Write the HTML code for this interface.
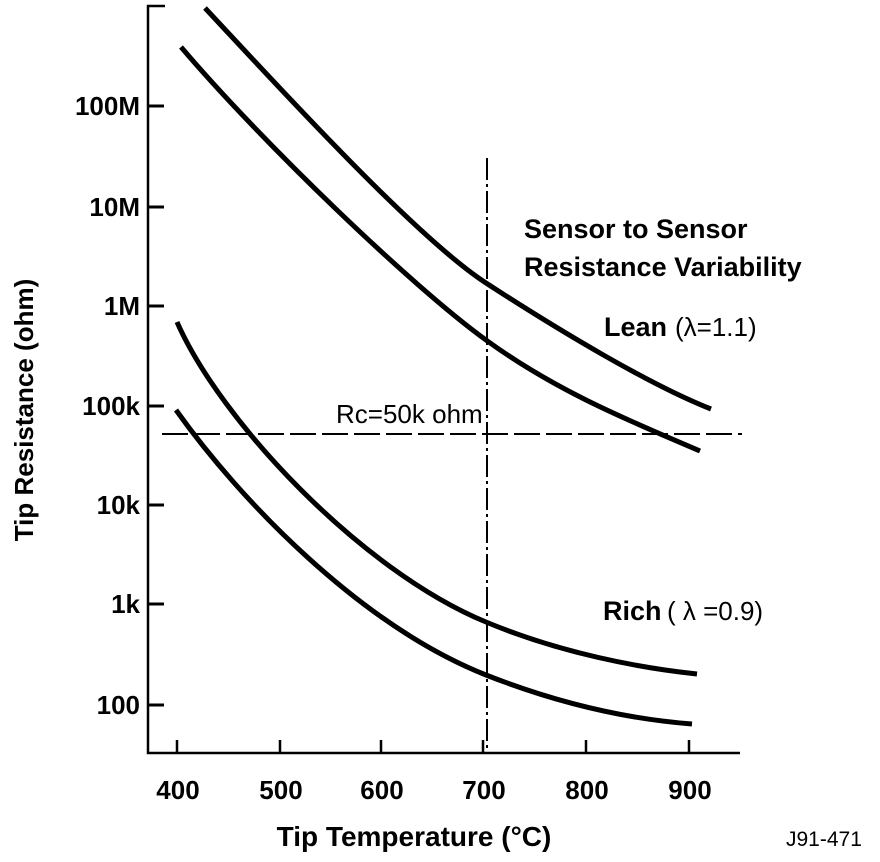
<!DOCTYPE html>
<html><head><style>body{margin:0;background:#fff}svg{display:block}</style></head><body>
<svg width="880" height="862" xmlns="http://www.w3.org/2000/svg" font-family="Liberation Sans, sans-serif">
<g stroke="#000" fill="none">
<path d="M165,6 L148,6 L148,753 L740,753" stroke-width="2.5"/>
<g stroke-width="3">
<path d="M148,106 H164 M148,207 H164 M148,306 H164 M148,406 H164 M148,505 H164 M148,604 H164 M148,705 H164"/>
</g>
<g stroke-width="2.5">
<path d="M177,740 V753 M280,740 V753 M381,740 V753 M483,740 V753 M586,740 V753 M689,740 V753"/>
</g>
<path d="M487,158 V753" stroke-width="2" stroke-dasharray="22,4,3,4"/>
<path d="M162,434 H742" stroke-width="2" stroke-dasharray="26,6"/>
<g stroke-width="5" stroke-linecap="butt">
<path d="M205,8 C300,110 420,240 486,283 C560,331 650,385 711,409"/>
<path d="M181,47 C260,140 410,285 486,340 C560,394 640,425 700,451"/>
<path d="M177,322 C220,420 360,570 486,622 C560,653 640,668 697,674"/>
<path d="M176,410 C240,500 360,625 486,675 C570,708 640,720 692,724"/>
</g>
</g>
<g font-weight="bold" font-size="26" fill="#000" text-anchor="end">
<text x="140" y="115">100M</text>
<text x="140" y="216">10M</text>
<text x="140" y="315">1M</text>
<text x="140" y="415">100k</text>
<text x="140" y="514">10k</text>
<text x="140" y="613">1k</text>
<text x="140" y="714">100</text>
</g>
<g font-weight="bold" font-size="26" fill="#000" text-anchor="middle">
<text x="178" y="799">400</text>
<text x="281" y="799">500</text>
<text x="382" y="799">600</text>
<text x="484" y="799">700</text>
<text x="587" y="799">800</text>
<text x="690" y="799">900</text>
<text x="414" y="846" font-size="28">Tip Temperature (°C)</text>
<text transform="translate(33,410) rotate(-90)" font-size="26">Tip Resistance (ohm)</text>
</g>
<g font-weight="bold" font-size="27" fill="#000">
<text x="524" y="238">Sensor to Sensor</text>
<text x="524" y="276">Resistance Variability</text>
<text x="604" y="336">Lean</text>
<text x="603" y="620">Rich</text>
</g>
<g font-size="26" fill="#000">
<text x="675" y="336">(λ=1.1)</text>
<text x="667" y="620">( λ =0.9)</text>
<text x="336" y="423">Rc=50k ohm</text>
<text x="786" y="846" font-size="21">J91-471</text>
</g>
</svg>
</body></html>
